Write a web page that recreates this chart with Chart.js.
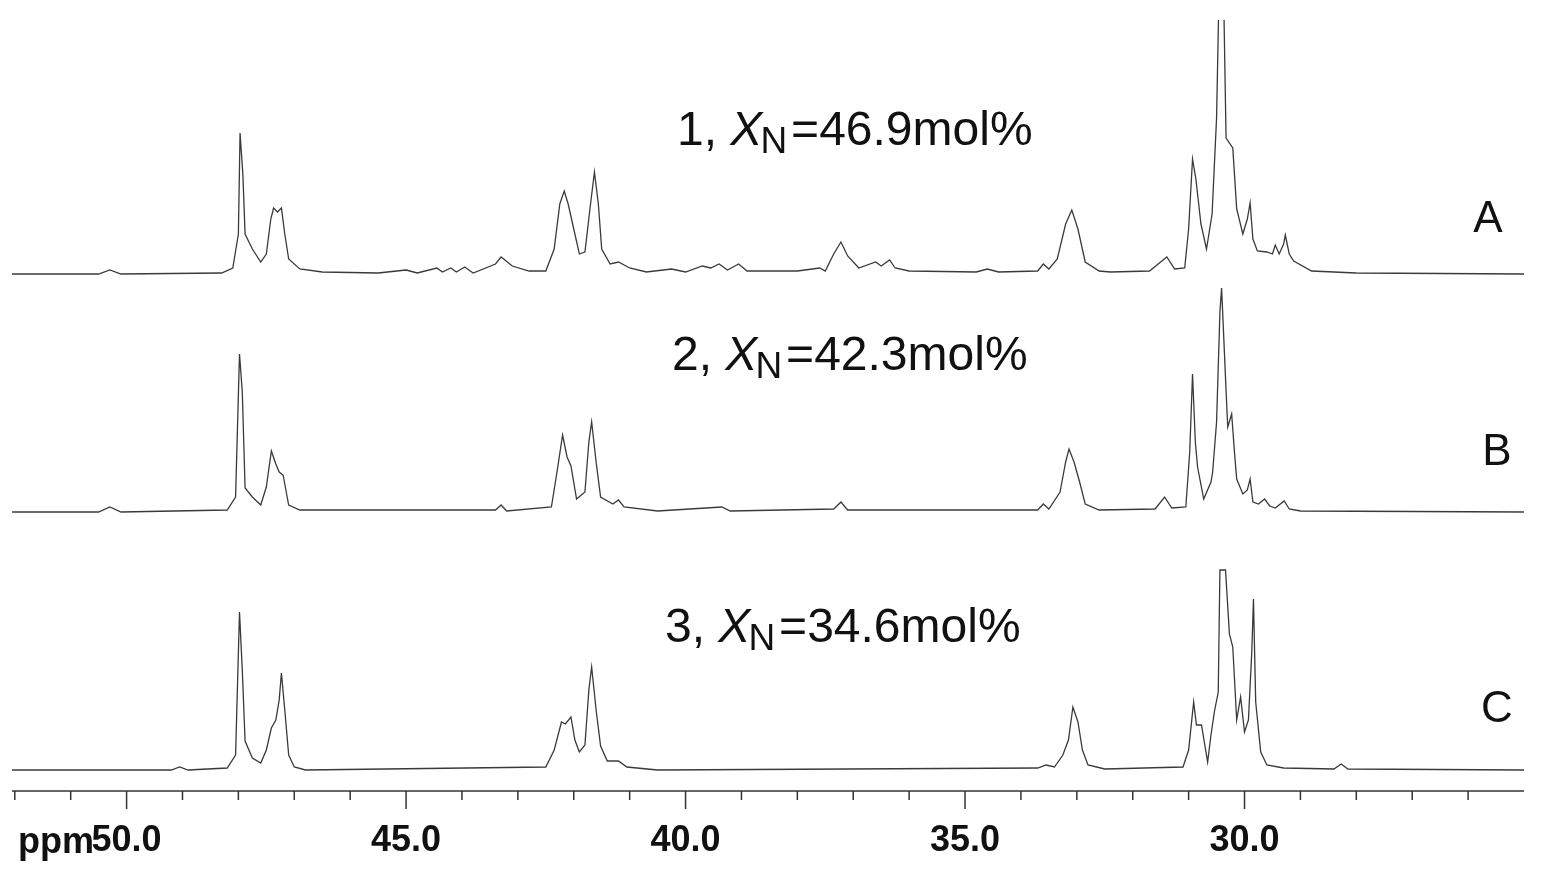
<!DOCTYPE html>
<html>
<head>
<meta charset="utf-8">
<script src="https://cdn.jsdelivr.net/npm/chart.js@4"></script>
<style>
  html, body { margin: 0; padding: 0; background: #fff; }
  #wrap { width: 1544px; height: 878px; }
</style>
</head>
<body>
<div id="wrap"><canvas id="nmr"></canvas></div>
<script>
// chemical shift (ppm), height above each trace's baseline
const traceA = [
  [52.05,0],[50.5,0],[50.3,4],[50.1,0],[48.3,1],[48.1,6],[48.0,40],[47.97,141],[47.92,100],[47.88,40],
  [47.75,25],[47.6,12],[47.5,20],[47.42,55],[47.37,66],[47.3,62],[47.23,66],[47.17,40],[47.1,15],[46.9,5],
  [46.5,2],[45.5,1],[45.0,4],[44.8,1],[44.45,6],[44.35,2],[44.2,6],[44.1,2],[43.95,7],[43.8,1],
  [43.4,10],[43.3,17],[43.1,8],[42.8,3],[42.5,3],[42.35,25],[42.25,70],[42.17,83],[42.1,70],[42.0,45],
  [41.9,20],[41.8,22],[41.7,70],[41.63,102],[41.56,70],[41.5,25],[41.35,10],[41.2,12],[41.0,6],[40.7,2],
  [40.25,5],[40.0,2],[39.7,8],[39.55,6],[39.4,10],[39.25,4],[39.05,10],[38.9,3],[38.0,3],[37.6,6],
  [37.5,3],[37.35,20],[37.22,32],[37.1,18],[36.9,6],[36.6,12],[36.5,8],[36.35,14],[36.25,6],[36.0,3],
  [34.8,2],[34.6,5],[34.4,2],[33.7,3],[33.6,10],[33.5,5],[33.35,15],[33.2,50],[33.09,64],[32.98,45],
  [32.85,12],[32.6,3],[32.4,2],[31.7,3],[31.5,12],[31.39,17],[31.25,5],[31.07,6],[31.0,45],[30.93,115],
  [30.87,95],[30.78,50],[30.68,25],[30.58,60],[30.5,156],[30.45,300],[30.38,300],[30.33,136],[30.21,126],[30.14,65],
  [30.03,40],[29.95,55],[29.9,71],[29.85,35],[29.77,23],[29.6,22],[29.5,20],[29.45,29],[29.38,20],[29.3,30],
  [29.27,39],[29.2,20],[29.12,13],[28.8,3],[28.0,1],[25.0,0]
];
const traceB = [
  [52.05,0],[50.5,0],[50.3,5],[50.1,0],[48.2,2],[48.05,15],[47.98,158],[47.93,120],[47.88,24],[47.75,15],
  [47.6,7],[47.5,25],[47.41,61],[47.33,48],[47.27,40],[47.2,37],[47.1,7],[46.9,2],[43.4,2],[43.3,7],
  [43.2,1],[42.4,5],[42.3,40],[42.2,77],[42.12,55],[42.05,46],[41.95,13],[41.8,20],[41.73,70],[41.68,90],
  [41.6,50],[41.52,15],[41.3,8],[41.2,12],[41.1,5],[40.5,1],[39.35,5],[39.2,1],[37.35,3],[37.22,10],
  [37.1,2],[33.7,2],[33.6,8],[33.5,3],[33.3,20],[33.2,50],[33.14,63],[33.05,50],[32.95,30],[32.85,8],
  [32.6,2],[31.6,3],[31.43,15],[31.3,4],[31.05,5],[30.98,60],[30.93,138],[30.88,70],[30.84,45],[30.73,13],
  [30.6,30],[30.57,40],[30.5,90],[30.44,200],[30.41,224],[30.36,160],[30.33,121],[30.3,85],[30.23,98],[30.18,60],
  [30.14,33],[30.03,18],[29.95,22],[29.9,33],[29.85,10],[29.75,8],[29.64,13],[29.55,6],[29.45,4],[29.29,11],
  [29.2,3],[29.0,1],[25.0,0]
];
const traceC = [
  [52.05,0],[49.2,0],[49.05,3],[48.9,0],[48.2,2],[48.05,15],[47.98,158],[47.93,100],[47.88,29],[47.75,12],
  [47.6,7],[47.5,20],[47.41,42],[47.33,50],[47.27,70],[47.23,97],[47.17,60],[47.1,15],[47.0,3],[46.8,0],
  [42.5,3],[42.35,20],[42.22,48],[42.15,46],[42.05,53],[41.98,30],[41.9,18],[41.8,25],[41.73,80],[41.68,103],
  [41.6,60],[41.52,24],[41.4,9],[41.2,9],[41.05,3],[40.5,0],[33.7,2],[33.55,5],[33.4,3],[33.25,15],
  [33.15,30],[33.07,63],[32.98,48],[32.9,20],[32.8,5],[32.5,1],[31.1,3],[31.0,20],[30.91,68],[30.86,45],
  [30.77,45],[30.66,8],[30.6,35],[30.54,58],[30.47,78],[30.44,200],[30.34,200],[30.27,136],[30.21,123],[30.14,50],
  [30.07,73],[30.0,38],[29.93,50],[29.87,118],[29.84,171],[29.8,68],[29.71,18],[29.6,5],[29.3,2],[28.4,1],
  [28.27,6],[28.15,1],[25.0,0]
];
const traceNames = ['A', 'B', 'C'];
const sampleLabels = [['1, ', '46.9mol%'], ['2, ', '42.3mol%'], ['3, ', '34.6mol%']];
const majorTicks = [50, 45, 40, 35, 30];
const minorTicks = [52, 51, 49, 48, 47, 46, 44, 43, 42, 41, 39, 38, 37, 36, 34, 33, 32, 31, 29, 28, 27, 26];

// stacking offsets (vertical position of each baseline above the axis)
const offsets = [517, 279, 21];
const textY = [145, 370, 642];
const textX = [677, 672, 665];
const letterY = [220, 453, 710];

const traces = [traceA, traceB, traceC];
const datasets = traces.map((t, i) => ({
    label: traceNames[i],
    data: t.map(p => ({ x: p[0], y: p[1] + offsets[i] })),
    borderColor: '#3a3a3a',
    borderWidth: 1.3,
    pointRadius: 0,
    tension: 0,
    fill: false
}));

const decor = {
    id: 'decor',
    afterDraw(chart) {
        const ctx = chart.ctx;
        const xs = chart.scales.x;
        const axisY = 791;
        ctx.save();
        ctx.strokeStyle = '#333';
        ctx.lineWidth = 1.5;
        ctx.beginPath();
        ctx.moveTo(xs.getPixelForValue(52.05), axisY);
        ctx.lineTo(xs.getPixelForValue(25), axisY);
        ctx.stroke();
        majorTicks.forEach(v => {
            const px = xs.getPixelForValue(v);
            ctx.beginPath(); ctx.moveTo(px, axisY); ctx.lineTo(px, axisY + 18); ctx.stroke();
        });
        minorTicks.forEach(v => {
            const px = xs.getPixelForValue(v);
            ctx.beginPath(); ctx.moveTo(px, axisY); ctx.lineTo(px, axisY + 9); ctx.stroke();
        });
        ctx.fillStyle = '#111';
        ctx.font = 'bold 36px "Liberation Sans Narrow", "Liberation Sans", sans-serif';
        ctx.textBaseline = 'middle';
        ctx.textAlign = 'center';
        majorTicks.forEach(v => ctx.fillText(v.toFixed(1), xs.getPixelForValue(v), 841));
        ctx.textAlign = 'left';
        ctx.fillText('ppm', 18, 843);

        // sample labels
        ctx.textBaseline = 'alphabetic';
        sampleLabels.forEach((s, i) => {
            let x = textX[i];
            const base = textY[i];
            ctx.font = '48px "Liberation Sans", Arial, sans-serif';
            ctx.fillText(s[0], x, base);
            x += ctx.measureText(s[0]).width;
            ctx.font = 'italic 48px "Liberation Sans", Arial, sans-serif';
            ctx.fillText('X', x, base);
            x += ctx.measureText('X').width - 2;
            ctx.font = '37px "Liberation Sans", Arial, sans-serif';
            ctx.fillText('N', x, base + 8);
            x += ctx.measureText('N').width + 4;
            ctx.font = '48px "Liberation Sans", Arial, sans-serif';
            ctx.fillText('=' + s[1], x, base);
        });
        ctx.font = '44px "Liberation Sans", Arial, sans-serif';
        ctx.textAlign = 'center';
        ctx.textBaseline = 'middle';
        traceNames.forEach((n, i) => ctx.fillText(n, i === 0 ? 1488 : 1497, letterY[i]));
        ctx.restore();
    }
};

new Chart(document.getElementById('nmr'), {
    type: 'line',
    data: { datasets },
    options: {
        responsive: true,
        maintainAspectRatio: false,
        animation: false,
        layout: { padding: { left: 12, right: 20, top: 20, bottom: 87 } },
        plugins: { legend: { display: false }, tooltip: { enabled: false } },
        scales: {
            x: { type: 'linear', reverse: true, min: 25, max: 52.05, display: false },
            y: { type: 'linear', min: 0, max: 771, display: false }
        }
    },
    plugins: [decor]
});
</script>
</body>
</html>
